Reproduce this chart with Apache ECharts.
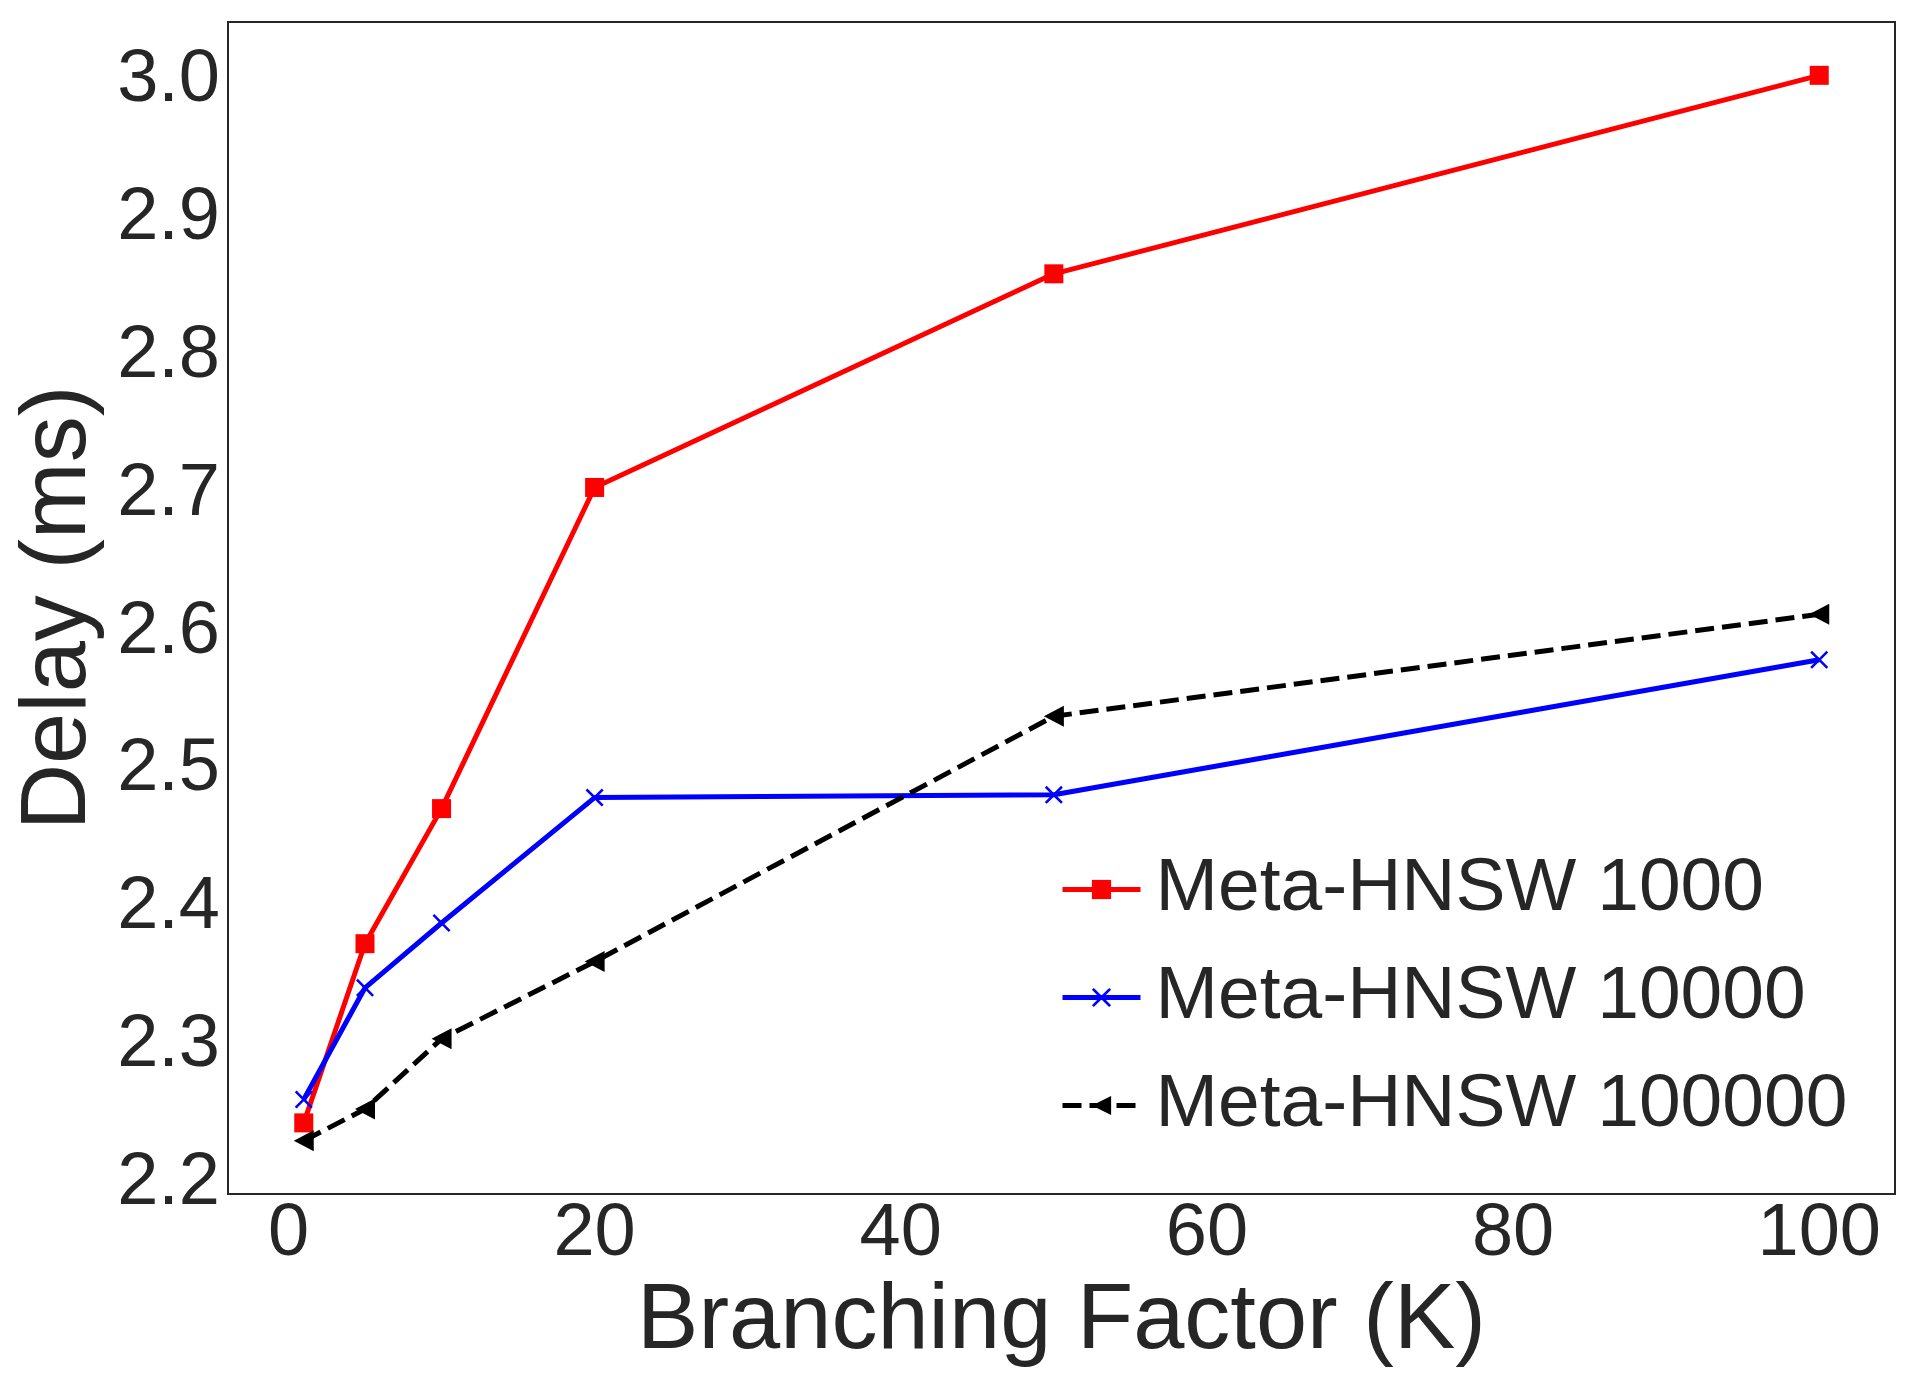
<!DOCTYPE html>
<html>
<head>
<meta charset="utf-8">
<script src="https://cdn.jsdelivr.net/npm/echarts@6/dist/echarts.min.js"></script>
<style>
  html, body { margin: 0; padding: 0; background: #fff; }
  #chart { width: 1920px; height: 1388px; }
</style>
</head>
<body>
<div id="chart"></div>
<script>
// branching factor K on the x axis
var branching = [1, 5, 10, 20, 50, 100];
var seriesNames = ["Meta-HNSW 1000", "Meta-HNSW 10000", "Meta-HNSW 100000"];
var delay1000 = [2.244, 2.374, 2.472, 2.705, 2.860, 3.004];
var delay10000 = [2.261, 2.342, 2.389, 2.480, 2.482, 2.580];
var delay100000 = [2.231, 2.254, 2.305, 2.361, 2.539, 2.613];
var xTicks = [0, 20, 40, 60, 80, 100];
var yTicks = [2.2, 2.3, 2.4, 2.5, 2.6, 2.7, 2.8, 2.9, 3.0];

var ink = "#262626";
var font = "Liberation Sans, Arial, sans-serif";

function pairs(ys) {
  return branching.map(function (k, i) { return [k, ys[i]]; });
}

var chart = echarts.init(document.getElementById("chart"));
chart.setOption({
  animation: false,
  backgroundColor: "#fff",
  textStyle: { fontFamily: font, color: ink },
  grid: {
    show: true,
    left: 228, right: 25, top: 22, bottom: 194,
    borderColor: ink,
    borderWidth: 2,
    containLabel: false
  },
  legend: {
    orient: "vertical",
    left: 1055,
    top: 847,
    itemWidth: 78,
    itemHeight: 24,
    itemGap: 33,
    data: seriesNames,
    lineStyle: { width: 5 },
    textStyle: {
      fontFamily: font, fontSize: 75, color: ink, lineHeight: 72,
      padding: [0, 0, 0, 10]
    }
  },
  xAxis: {
    type: "value",
    min: -3.95,
    max: 104.95,
    name: "Branching Factor (K)",
    nameLocation: "middle",
    nameGap: 74,
    nameTextStyle: { fontFamily: font, fontSize: 92, color: ink },
    axisLine: { show: false },
    axisTick: { show: false },
    splitLine: { show: false },
    axisLabel: {
      customValues: xTicks,
      fontFamily: font, fontSize: 74, color: ink, margin: 4,
      formatter: function (v) { return String(Math.round(v)); }
    }
  },
  yAxis: {
    type: "value",
    min: 2.1924,
    max: 3.0427,
    name: "Delay (ms)",
    nameLocation: "middle",
    nameRotate: 90,
    nameGap: 122,
    nameTextStyle: { fontFamily: font, fontSize: 92, color: ink },
    axisLine: { show: false },
    axisTick: { show: false },
    splitLine: { show: false },
    axisLabel: {
      customValues: yTicks,
      fontFamily: font, fontSize: 74, color: ink, margin: 8,
      formatter: function (v) { return v.toFixed(1); }
    }
  },
  series: [
    {
      name: seriesNames[0],
      type: "line",
      data: pairs(delay1000),
      symbol: "rect",
      symbolSize: 19,
      itemStyle: { color: "#ff0000" },
      lineStyle: { color: "#ff0000", width: 5 }
    },
    {
      name: seriesNames[1],
      type: "line",
      data: pairs(delay10000),
      symbol: "path://M0,1L1,0L5,4L9,0L10,1L6,5L10,9L9,10L5,6L1,10L0,9L4,5Z",
      symbolSize: 18,
      itemStyle: { color: "#0000ff" },
      lineStyle: { color: "#0000ff", width: 5 }
    },
    {
      name: seriesNames[2],
      type: "line",
      data: pairs(delay100000),
      symbol: "path://M0,5L10,0L10,10Z",
      symbolSize: [20, 21],
      itemStyle: { color: "#000000" },
      lineStyle: { color: "#000000", width: 5, type: [19, 8] }
    }
  ]
});
</script>
</body>
</html>
